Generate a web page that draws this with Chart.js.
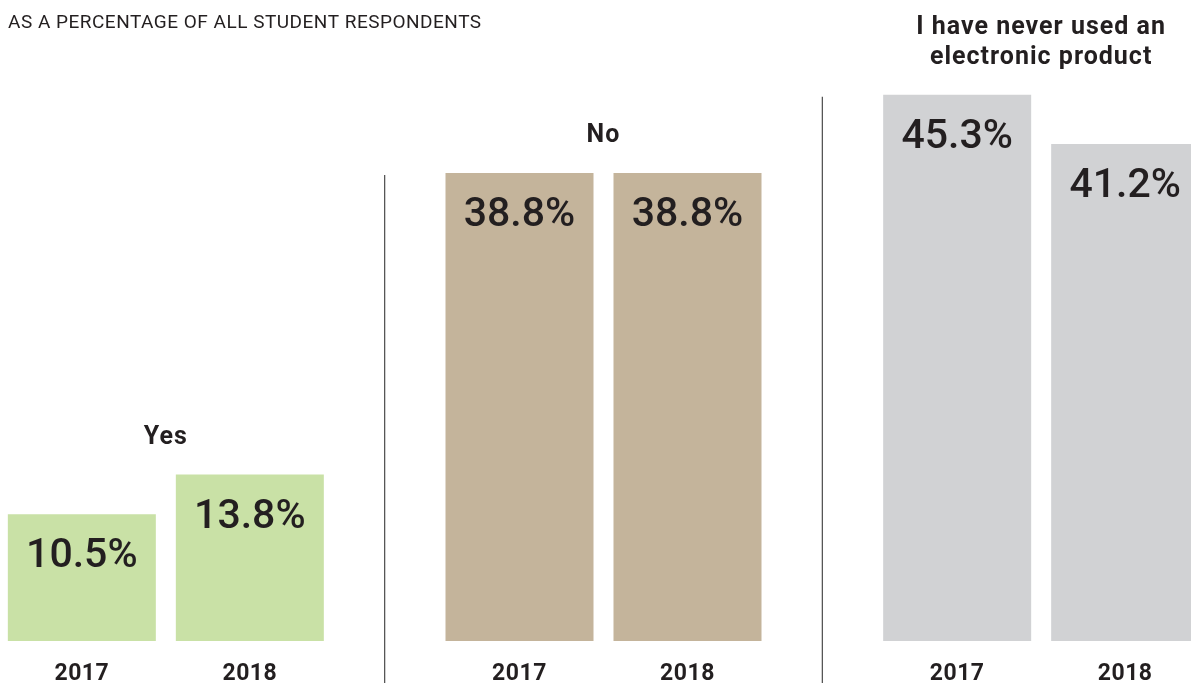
<!DOCTYPE html>
<html>
<head>
<meta charset="utf-8">
<script src="https://cdn.jsdelivr.net/npm/chart.js@4.4.1/dist/chart.umd.min.js"></script>
<style>
  html, body { margin: 0; padding: 0; width: 1191px; height: 683px; overflow: hidden; background: #ffffff; }
  #wrap { position: absolute; left: -53px; top: 0; width: 1313px; height: 683px; }
</style>
</head>
<body>
<div id="wrap"><canvas id="c"></canvas></div>
<script>
const subtitle = "AS A PERCENTAGE OF ALL STUDENT RESPONDENTS";
const categories = ["Yes", "No", "I have never used an electronic product"];
const titleLines = [["Yes"], ["No"], ["I have never used an", "electronic product"]];
const years = ["2017", "2018"];
const values2017 = [10.5, 38.8, 45.3];
const values2018 = [13.8, 38.8, 41.2];
const groupColors = ["#c9e1a6", "#c4b49b", "#d1d2d4"];

const textColor = "#231f20";

const labelPlugin = {
  id: "labels",
  afterDatasetsDraw(chart) {
    const ctx = chart.ctx;
    const xs = chart.scales.x;
    const offsetLeft = chart.canvas.getBoundingClientRect().left;
    const H = chart.height;
    ctx.save();
    ctx.fillStyle = textColor;
    // subtitle
    ctx.font = "19px Roboto";
    ctx.letterSpacing = "0.5px";
    ctx.textAlign = "left";
    ctx.textBaseline = "alphabetic";
    ctx.fillText(subtitle, 8 - offsetLeft, 28);

    const metas = [chart.getDatasetMeta(0), chart.getDatasetMeta(1)];
    categories.forEach((cat, i) => {
      const els = metas.map(m => m.data[i]);
      const topY = Math.min(...els.map(e => e.y));
      // value labels and years
      els.forEach((el, d) => {
        const v = chart.data.datasets[d].data[i];
        ctx.font = "500 41px Roboto";
        ctx.letterSpacing = "0px";
        ctx.textAlign = "center";
        ctx.fillText(v.toFixed(1) + "%", el.x, el.y + 53);
        ctx.font = "bold 23px Roboto";
        ctx.letterSpacing = "0.5px";
        ctx.fillText(years[d], el.x, 680);
      });
      // group title
      const cx = (els[0].x + els[1].x) / 2;
      const lines = titleLines[i];
      ctx.font = "bold 25px Roboto";
      ctx.letterSpacing = "1px";
      ctx.textAlign = "center";
      lines.forEach((ln, k) => {
        const y = topY - 31 - (lines.length - 1 - k) * 30;
        ctx.fillText(ln, cx, y);
      });
      // separator before group (except first)
      if (i > 0) {
        const bx = (xs.getPixelForValue(i - 1) + xs.getPixelForValue(i)) / 2;
        ctx.strokeStyle = "#4a4a4a";
        ctx.lineWidth = 1.2;
        ctx.beginPath();
        ctx.moveTo(bx, topY + 2);
        ctx.lineTo(bx, H);
        ctx.stroke();
      }
    });
    ctx.restore();
  }
};

new Chart(document.getElementById("c"), {
  type: "bar",
  data: {
    labels: categories,
    datasets: [
      { label: years[0], data: values2017, backgroundColor: groupColors },
      { label: years[1], data: values2018, backgroundColor: groupColors }
    ]
  },
  options: {
    responsive: true,
    maintainAspectRatio: false,
    animation: false,
    events: [],
    layout: { padding: { left: 0, right: 0, top: 0, bottom: 42 } },
    categoryPercentage: 0.7677,
    barPercentage: 0.881,
    plugins: { legend: { display: false }, tooltip: { enabled: false }, title: { display: false } },
    scales: {
      x: { display: false, offset: true },
      y: { display: false, min: 0, max: 53.15 }
    }
  },
  plugins: [labelPlugin]
});
</script>
</body>
</html>
